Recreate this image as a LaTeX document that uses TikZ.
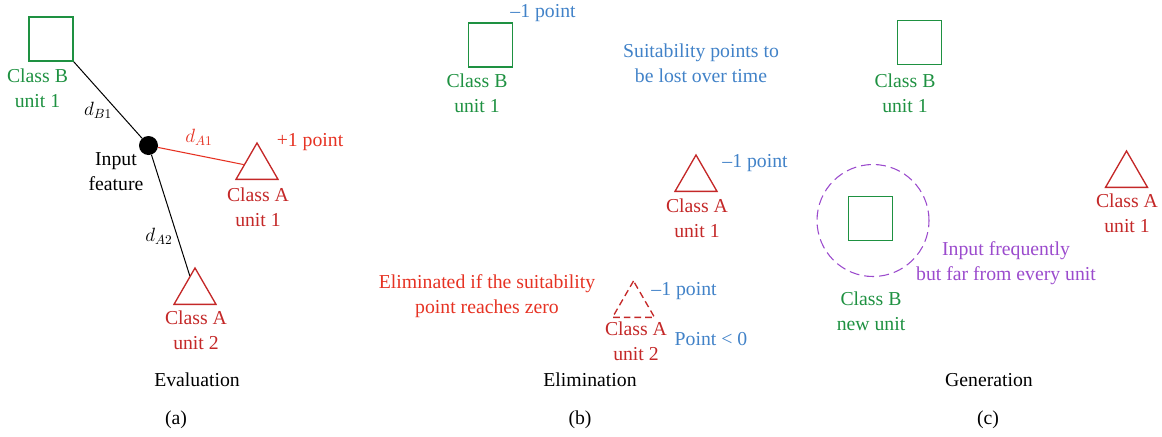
\documentclass[tikz,border=0pt]{standalone}
\usepackage{fontspec}
\setmainfont{Liberation Serif}
\usepackage{tikz}
\usetikzlibrary{shapes.geometric}
\definecolor{clsb}{RGB}{30, 145, 65}
\definecolor{clsa}{RGB}{196, 40, 40}
\definecolor{hitred}{RGB}{230, 50, 35}
\definecolor{ptblue}{RGB}{65, 130, 200}
\definecolor{newpurple}{RGB}{155, 75, 205}

\tikzset{
	unitb/.style={draw=clsb, line width=1.1pt, minimum size=33pt, inner sep=0pt},
	unita/.style={regular polygon, regular polygon sides=3, draw=clsa, line width=1pt, minimum size=36.4pt, inner sep=0pt},
	lbl/.style={align=center, anchor=base, inner sep=0pt, font=\fontsize{14.8}{18.75}\selectfont},
}

\begin{document}
\begin{tikzpicture}[x=0.75pt, y=-0.75pt]
			\useasboundingbox (0, 0) rectangle (1162, 436);

			% --- (a) Evaluation ---
			\node[unitb] (b1a) at (51, 39) {};
			\node[unita] (a1a) at (257, 167.25) {};
			\node[unita] (a2a) at (195, 292.25) {};
			\node[circle, fill=black, minimum size=14.25pt, inner sep=0pt] (inp) at (148.5, 145.5) {};

			\draw[line width=0.75pt] (b1a.south east) -- (inp);
			\draw[hitred, line width=0.8pt] (inp) -- (a1a);
			\draw[line width=0.75pt] (inp) -- (a2a);

			% two-line labels sit on the baseline of their last line
			\node[lbl, text=clsb] (b1alab) at (37.5, 107) {Class B\\unit 1};
			\node[lbl, anchor=center] (db1) at (98, 110) {$d_{B1}$};
			\node[lbl] (inplab) at (116, 190) {Input\\feature};
			\node[lbl, anchor=center, text=hitred] (da1) at (199, 137) {$d_{A1}$};
			\node[lbl, text=hitred] (plus) at (310, 146) {+1 point};
			\node[lbl, text=clsa] (a1alab) at (258, 226) {Class A\\unit 1};
			\node[lbl, anchor=center] (da2) at (159, 236) {$d_{A2}$};
			\node[lbl, text=clsa] (a2alab) at (196, 349) {Class A\\unit 2};

			\node[lbl] (tita) at (197, 386) {Evaluation};
			\node[lbl] (capa) at (176, 424) {(a)};

			% --- (b) Elimination ---
			\node[unitb] (b1b) at (490.5, 45) {};
			\node[unita] (a1b) at (696, 179.25) {};
			\node[unita, dash pattern=on 5pt off 3pt] (a2b) at (633.5, 305.25) {};

			\node[lbl, text=ptblue] (minb1) at (543, 17) {--1 point};
			\node[lbl, text=clsb] (b1blab) at (477, 112) {Class B\\unit 1};
			\node[lbl, text=ptblue] (suit) at (701, 82) {Suitability points to\\be lost over time};
			\node[lbl, text=ptblue] (mina1) at (755, 167) {--1 point};
			\node[lbl, text=clsa] (a1blab) at (697, 237) {Class A\\unit 1};
			\node[lbl, text=hitred] (elim) at (487, 313) {Eliminated if the suitability\\point reaches zero};
			\node[lbl, text=ptblue] (mina2) at (684, 295) {--1 point};
			\node[lbl, text=clsa] (a2blab) at (636, 360) {Class A\\unit 2};
			\node[lbl, text=ptblue] (below) at (711, 345) {Point < 0};

			\node[lbl] (titb) at (590, 386) {Elimination};
			\node[lbl] (capb) at (580, 424) {(b)};

			% --- (c) Generation ---
			\node[unitb] (b1c) at (919.5, 42.5) {};
			\node[unita] (a1c) at (1126.5, 175.25) {};
			\node[circle, draw=newpurple, line width=0.8pt, dash pattern=on 7.5pt off 3.75pt, minimum size=84pt, inner sep=0pt] (zone) at (873, 220.5) {};
			\node[unitb] (newb) at (870.5, 218.5) {};

			\node[lbl, text=clsb] (b1clab) at (905, 112) {Class B\\unit 1};
			\node[lbl, text=clsa] (a1clab) at (1127, 232) {Class A\\unit 1};
			\node[lbl, text=newpurple] (freq) at (1006, 280) {Input frequently\\but far from every unit};
			\node[lbl, text=clsb] (newlab) at (871, 330) {Class B\\new unit};

			\node[lbl] (titc) at (989, 386) {Generation};
			\node[lbl] (capc) at (988, 424) {(c)};
\end{tikzpicture}
\end{document}
